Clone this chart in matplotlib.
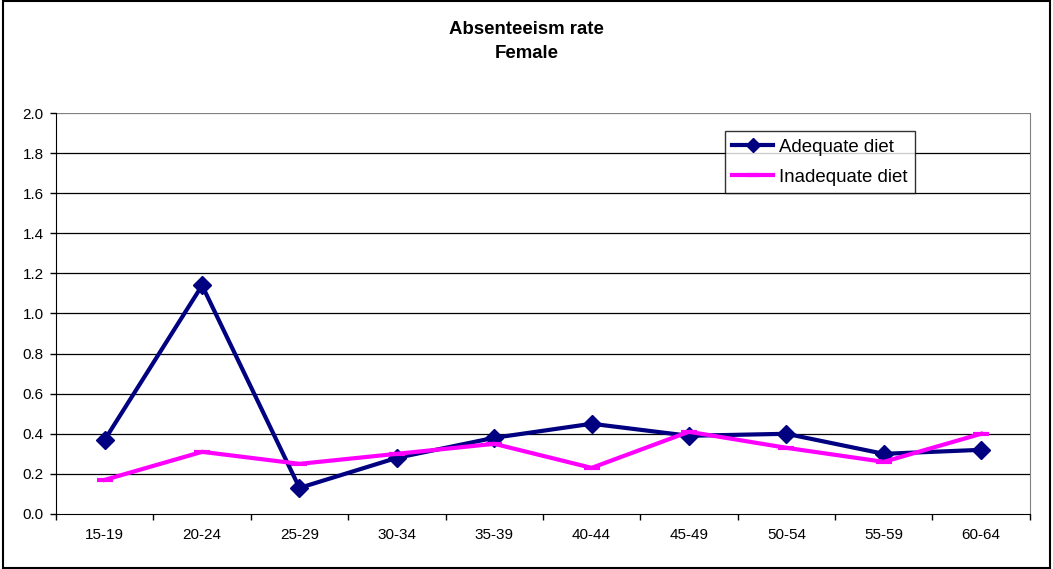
import matplotlib.pyplot as plt
import numpy as np
from matplotlib.patches import Rectangle

plt.rcParams['font.family'] = ['Liberation Sans', 'DejaVu Sans']

age_groups = ["15-19", "20-24", "25-29", "30-34", "35-39",
              "40-44", "45-49", "50-54", "55-59", "60-64"]
adequate = [0.37, 1.14, 0.13, 0.28, 0.38, 0.45, 0.39, 0.40, 0.30, 0.32]
inadequate = [0.17, 0.31, 0.25, 0.30, 0.35, 0.23, 0.41, 0.33, 0.26, 0.40]

fig = plt.figure(figsize=(10.53, 5.69), dpi=100)
ax = fig.add_axes([0.0532, 0.0967, 0.9248, 0.7047])

x = np.arange(len(age_groups))

# Grid lines every 0.2, behind the series
for yv in np.arange(0.2, 2.01, 0.2):
    ax.axhline(yv, color="black" if yv < 1.99 else "#808080", lw=0.9, zorder=1)

ax.plot(x, adequate, color="#000080", lw=3, marker="D", markersize=9,
        label="Adequate diet", zorder=3)
ax.plot(x, inadequate, color="#FF00FF", lw=3, marker="_", markersize=11,
        markeredgewidth=3, label="Inadequate diet", zorder=3)

ax.set_xlim(-0.5, len(age_groups) - 0.5)
ax.set_ylim(0, 2.0)
ax.set_yticks(np.arange(0, 2.01, 0.2))
ax.set_yticklabels([f"{v:.1f}" for v in np.arange(0, 2.01, 0.2)])

# Category labels sit between tick marks
ax.set_xticks(np.arange(-0.5, len(age_groups), 1.0))
ax.set_xticklabels([])
ax.set_xticks(x, minor=True)
ax.set_xticklabels(age_groups, minor=True)
ax.tick_params(axis="x", which="minor", length=0, pad=10, labelsize=11)
ax.tick_params(axis="x", which="major", length=4, width=1, direction="out")
ax.tick_params(axis="y", length=4, width=1, direction="out", labelsize=11, pad=5)

ax.spines["top"].set_visible(False)
ax.spines["right"].set_color("#808080")
ax.spines["left"].set_color("black")
ax.spines["bottom"].set_color("black")

leg = ax.legend(loc="upper left", bbox_to_anchor=(0.687, 0.955), fontsize=13.4,
                frameon=True, fancybox=False, edgecolor="black",
                handlelength=2.2, borderpad=0.4, labelspacing=0.7,
                handletextpad=0.3, markerscale=0.75, borderaxespad=0)
leg.get_frame().set_linewidth(1.0)

fig.text(0.5, 1 - 29.5 / 569, "Absenteeism rate", ha="center", va="center",
         fontsize=13.4, fontweight="bold")
fig.text(0.5, 1 - 53.5 / 569, "Female", ha="center", va="center",
         fontsize=13.4, fontweight="bold")

# Outer chart border
fig.patches.append(Rectangle((0.003, 0.002), 0.994, 0.996, transform=fig.transFigure,
                             fill=False, edgecolor="black", lw=1.5))

fig.savefig("out.png", dpi=100)
